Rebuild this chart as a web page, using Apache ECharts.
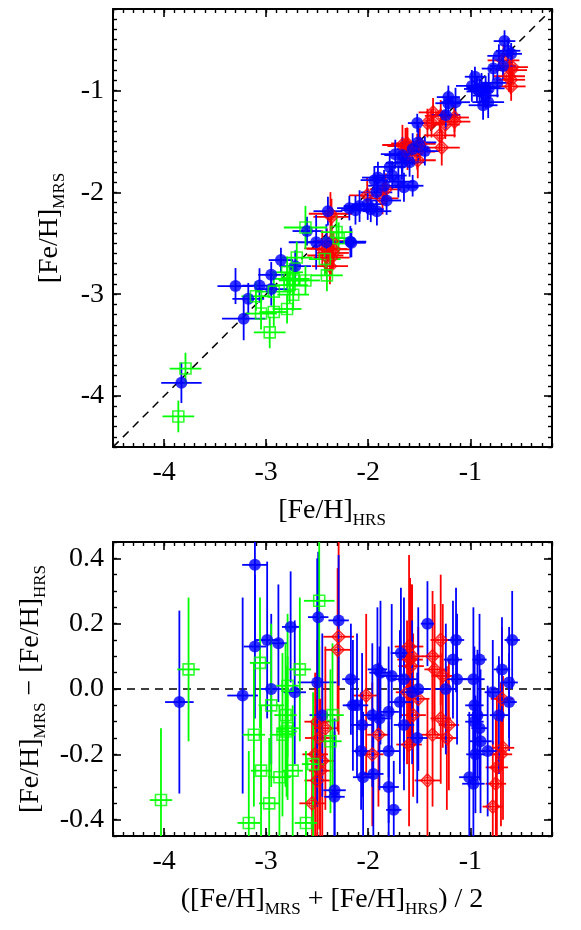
<!DOCTYPE html>
<html>
<head>
<meta charset="utf-8">
<script src="https://cdn.jsdelivr.net/npm/echarts@6/dist/echarts.min.js"></script>
<style>
  html, body { margin: 0; padding: 0; background: #fff; }
  #myEcharts { width: 581px; height: 930px; }
</style>
</head>
<body>
<div id="myEcharts"></div>
<script>
// values: mean of the two [Fe/H], difference MRS - HRS, error of the difference
const blueMean = [-3.85, -3.23, -3.11, -3.11, -2.99, -2.88, -2.76, -2.95, -2.72, -2.50, -2.49, -2.45, -2.29, -2.33, -2.33,
    -2.17, -2.15, -2.11, -2.06, -2.07, -2.05, -1.96, -1.95, -1.91, -1.88, -1.89, -1.80, -1.80, -1.80, -1.75,
    -1.77, -1.65, -1.68, -1.69, -1.65, -1.57, -1.52, -1.51, -1.42, -1.24, -1.14, -1.17, -1.13, -0.97, -0.91,
    -0.69, -0.59, -0.62, -0.78, -0.62, -0.96, -0.93, -0.96, -0.91, -0.90, -0.83, -0.95, -1.01, -0.97, -0.72];
const blueDiff = [-0.04, -0.02, 0.38, 0.13, 0.15, 0.14, 0.19, 0.00, -0.01, 0.02, 0.22, -0.08, 0.21, -0.31, -0.33,
    0.03, -0.05, -0.05, -0.11, -0.19, -0.27, -0.08, -0.26, 0.06, 0.05, -0.09, -0.07, -0.19, -0.30, -0.37,
    0.04, 0.03, 0.11, -0.04, -0.11, -0.01, -0.15, 0.00, 0.20, 0.00, 0.15, 0.09, 0.03, 0.03, 0.09,
    0.06, 0.15, 0.02, -0.01, -0.04, -0.05, -0.08, -0.10, -0.12, -0.16, -0.19, -0.20, -0.27, -0.29, -0.08];
const blueErr = [0.28, 0.30, 0.25, 0.22, 0.24, 0.18, 0.17, 0.23, 0.22, 0.38, 0.20, 0.25, 0.20, 0.22, 0.20,
    0.17, 0.20, 0.22, 0.22, 0.18, 0.20, 0.22, 0.20, 0.19, 0.22, 0.22, 0.20, 0.22, 0.20, 0.15,
    0.22, 0.25, 0.20, 0.22, 0.20, 0.22, 0.20, 0.25, 0.13, 0.20, 0.16, 0.18, 0.20, 0.22, 0.14,
    0.16, 0.15, 0.17, 0.16, 0.15, 0.18, 0.20, 0.18, 0.16, 0.22, 0.20, 0.18, 0.20, 0.22, 0.18];

const redMean = [-2.29, -2.30, -2.02, -1.90, -1.96, -1.60, -1.59, -1.58, -1.57, -1.60, -1.56, -1.51, -1.62, -1.37, -1.35,
    -1.27, -1.29, -1.42, -1.37, -1.29, -1.21, -1.23, -0.69, -0.68, -0.70, -0.74, -0.75, -0.78,
    -2.55, -2.50, -2.48, -2.52, -2.45, -2.47, -2.42, -2.50];
const redDiff = [0.16, 0.12, -0.02, -0.14, -0.20, 0.13, 0.09, 0.07, 0.10, -0.17, -0.08, -0.03, -0.01, 0.10, 0.06,
    0.04, 0.15, -0.28, -0.14, -0.09, -0.11, -0.15, -0.03, -0.18, -0.20, -0.24, -0.29, -0.36,
    -0.35, -0.10, -0.15, -0.20, -0.22, -0.25, -0.12, -0.28];
const redErr = [0.30, 0.25, 0.25, 0.22, 0.22, 0.28, 0.25, 0.25, 0.22, 0.25, 0.25, 0.22, 0.22, 0.20, 0.20,
    0.22, 0.20, 0.25, 0.22, 0.20, 0.20, 0.22, 0.22, 0.22, 0.22, 0.22, 0.20, 0.20,
    0.25, 0.25, 0.28, 0.25, 0.25, 0.22, 0.25, 0.25];

const greenMean = [-4.03, -3.76, -3.17, -3.12, -3.06, -3.05, -2.97, -2.95, -2.87, -2.84, -2.81, -2.79, -2.79, -2.74,
    -2.67, -2.61, -2.54, -2.48, -2.37, -2.35, -2.80];
const greenDiff = [-0.34, 0.06, -0.41, -0.14, 0.08, -0.25, -0.35, -0.05, -0.27, -0.14, -0.08, -0.12, 0.01, -0.25,
    0.06, -0.41, -0.23, 0.27, -0.16, -0.08, -0.13];
const greenErr = [0.22, 0.22, 0.22, 0.22, 0.20, 0.20, 0.20, 0.25, 0.22, 0.25, 0.22, 0.22, 0.22, 0.20,
    0.22, 0.22, 0.22, 0.30, 0.22, 0.22, 0.20];

// axis ranges and tick labels
const feRange = [-4.5, -0.2];
const diffRange = [-0.45, 0.45];
const feTicks = [-4, -3, -2, -1];
const diffTicks = [-0.4, -0.2, 0.0, 0.2, 0.4];

const FONT = 'Liberation Serif';
const BLACK = '#000';

// top panel: HRS vs MRS, bottom panel: mean vs difference
function topData(mean, diff, err) {
    return mean.map((m, i) => {
        const e = err[i] / Math.SQRT2;
        return [m - diff[i] / 2, m + diff[i] / 2, e, e];
    });
}
function bottomData(mean, diff, err) {
    return mean.map((m, i) => [m, diff[i], err[i] / 2, err[i]]);
}

function errorBars(color) {
    return function (params, api) {
        const x = api.value(0), y = api.value(1), ex = api.value(2), ey = api.value(3);
        const a = api.coord([x - ex, y]), b = api.coord([x + ex, y]);
        const c = api.coord([x, y - ey]), d = api.coord([x, y + ey]);
        const st = { stroke: color, lineWidth: 1.8 };
        return {
            type: 'group',
            children: [
                { type: 'line', shape: { x1: a[0], y1: a[1], x2: b[0], y2: b[1] }, style: st },
                { type: 'line', shape: { x1: c[0], y1: c[1], x2: d[0], y2: d[1] }, style: st }
            ]
        };
    };
}

const tickText = { fontFamily: FONT, fontSize: 28, color: BLACK };

// two axes per side: one with the 0.1 minor ticks and the frame line, one with the long ticks and labels
function axisPair(dim, grid, pos, range, step, major, labels, fmt) {
    const minor = {
        gridIndex: grid, type: 'value', position: pos, min: range[0], max: range[1], interval: step,
        axisLine: { show: true, onZero: false, lineStyle: { color: BLACK, width: 2 } },
        axisTick: { show: true, inside: true, length: 4, lineStyle: { color: BLACK, width: 1.4 } },
        axisLabel: { show: false },
        splitLine: { show: false }
    };
    const big = {
        gridIndex: grid, type: 'value', position: pos, min: range[0], max: range[1],
        axisLine: { show: false, onZero: false },
        axisTick: { show: true, inside: true, length: 8, customValues: major, lineStyle: { color: BLACK, width: 1.6 } },
        axisLabel: labels ? {
            show: true, customValues: major, formatter: v => '{t|' + fmt(v) + '}',
            rich: { t: tickText }, fontFamily: FONT, fontSize: 28, color: BLACK,
            margin: dim === 'x' ? 12 : 9
        } : { show: false },
        splitLine: { show: false }
    };
    return [minor, big];
}

const xAxes = [
    ...axisPair('x', 0, 'bottom', feRange, 0.1, feTicks, true, v => String(v)),
    ...axisPair('x', 0, 'top', feRange, 0.1, feTicks, false),
    ...axisPair('x', 1, 'bottom', feRange, 0.1, feTicks, true, v => String(v)),
    ...axisPair('x', 1, 'top', feRange, 0.1, feTicks, false)
];
const yAxes = [
    ...axisPair('y', 0, 'left', feRange, 0.1, feTicks, true, v => String(v)),
    ...axisPair('y', 0, 'right', feRange, 0.1, feTicks, false),
    ...axisPair('y', 1, 'left', diffRange, 0.05, diffTicks, true, v => v.toFixed(1)),
    ...axisPair('y', 1, 'right', diffRange, 0.05, diffTicks, false)
];

const groups = [
    { name: 'red', color: '#ff0000', mean: redMean, diff: redDiff, err: redErr, symbol: 'diamond', size: 13, fill: false },
    { name: 'blue', color: '#0000ff', mean: blueMean, diff: blueDiff, err: blueErr, symbol: 'circle', size: 12, fill: true },
    { name: 'green', color: '#00ff00', mean: greenMean, diff: greenDiff, err: greenErr, symbol: 'rect', size: 11, fill: false }
];

const series = [];
// dashed reference lines
series.push({
    type: 'line', xAxisIndex: 0, yAxisIndex: 0, symbol: 'none', silent: true,
    data: [[feRange[0], feRange[0]], [feRange[1], feRange[1]]],
    lineStyle: { color: BLACK, width: 1.5, type: [8, 6] }, z: 1
});
series.push({
    type: 'line', xAxisIndex: 4, yAxisIndex: 4, symbol: 'none', silent: true,
    data: [[feRange[0], 0], [feRange[1], 0]],
    lineStyle: { color: BLACK, width: 1.5, type: [8, 6] }, z: 1
});

[[0, topData], [4, bottomData]].forEach(([ax, build]) => {
    groups.forEach(g => {
        const pts = build(g.mean, g.diff, g.err);
        series.push({
            type: 'custom', xAxisIndex: ax, yAxisIndex: ax, clip: true, silent: true,
            renderItem: errorBars(g.color), data: pts, encode: { x: 0, y: 1 }, z: 2
        });
        series.push({
            type: 'scatter', xAxisIndex: ax, yAxisIndex: ax, silent: true,
            symbol: g.symbol, symbolSize: g.size, data: pts.map(p => [p[0], p[1]]),
            itemStyle: g.fill ? { color: g.color } : { color: 'rgba(0,0,0,0)', borderColor: g.color, borderWidth: 1.6 },
            z: 2
        });
        if (g.name === 'red') {
            series.push({
                type: 'scatter', xAxisIndex: ax, yAxisIndex: ax, silent: true,
                symbol: 'circle', symbolSize: 6, data: pts.map(p => [p[0], p[1]]),
                itemStyle: { color: 'rgba(0,0,0,0)', borderColor: g.color, borderWidth: 1.2 }, z: 2
            });
        }
    });
});

const main = { fontSize: 28, fontFamily: FONT, color: BLACK };
const sub = { fontSize: 17, fontFamily: FONT, color: BLACK, padding: [20, 0, 0, 0] };
function title(x, y, text, rotate) {
    return {
        type: 'text', x: x, y: y, rotation: rotate ? Math.PI / 2 : 0, silent: true,
        style: { text: text, align: 'center', verticalAlign: 'middle', rich: { m: main, s: sub } }
    };
}

const option = {
    animation: false,
    backgroundColor: '#fff',
    textStyle: { fontFamily: FONT },
    grid: [
        { left: 113, top: 9, width: 439, height: 438, outerBoundsMode: 'none' },
        { left: 113, top: 542, width: 439, height: 294, outerBoundsMode: 'none' }
    ],
    xAxis: xAxes,
    yAxis: yAxes,
    series: series,
    graphic: [
        title(332, 511, '{m|[Fe/H]}{s|HRS}', false),
        title(50, 228, '{m|[Fe/H]}{s|MRS}', true),
        title(332, 900, '{m|([Fe/H]}{s|MRS}{m| + [Fe/H]}{s|HRS}{m|) / 2}', false),
        title(31, 689, '{m|[Fe/H]}{s|MRS}{m| \u2212 [Fe/H]}{s|HRS}', true)
    ]
};

const chart = echarts.init(document.getElementById('myEcharts'), null, { renderer: 'canvas' });
chart.setOption(option);
</script>
</body>
</html>
